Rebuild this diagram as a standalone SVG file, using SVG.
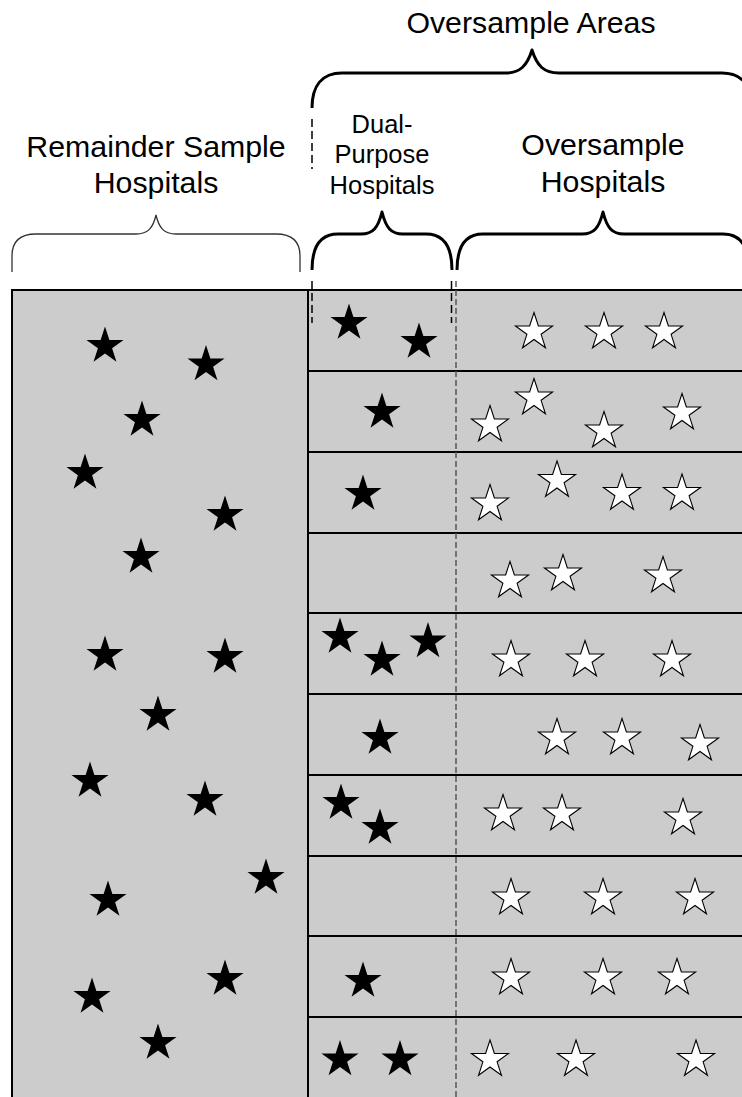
<svg xmlns="http://www.w3.org/2000/svg" xmlns:xlink="http://www.w3.org/1999/xlink" width="742" height="1097" viewBox="0 0 742 1097">
<style>
.lbl{font-family:"Liberation Sans",Arial,sans-serif;fill:#000;text-anchor:middle}
.big{font-size:30.3px}
.small{font-size:25.5px}
.row{fill:#cccccc;stroke:#000;stroke-width:2}
.brace{fill:none;stroke:#000;stroke-width:3;stroke-linejoin:round}
.thin{fill:none;stroke:#333;stroke-width:1.3}
.dashk{stroke:#000;stroke-width:1.5;stroke-dasharray:8,4;fill:none}
.dashg{stroke:#555;stroke-width:1.5;stroke-dasharray:6,3;fill:none}
.bs{fill:#000}
.ws{fill:#fff;stroke:#000;stroke-width:1.1;stroke-linejoin:miter}
</style>
<defs>
<path id="star" d="M0,-19.5 L4.38,-6.03 L18.55,-6.03 L7.09,2.3 L11.46,15.78 L0,7.45 L-11.46,15.78 L-7.09,2.3 L-18.55,-6.03 L-4.38,-6.03 Z"/>
</defs>
<rect width="742" height="1097" fill="#fff"/>

<g id="labels">
<text class="lbl big" x="531" y="33">Oversample Areas</text>
<text class="lbl big" x="156" y="157">Remainder Sample</text>
<text class="lbl big" x="156" y="193">Hospitals</text>
<text class="lbl small" x="382" y="133">Dual-</text>
<text class="lbl small" x="382" y="163">Purpose</text>
<text class="lbl small" x="382" y="194">Hospitals</text>
<text class="lbl big" x="603" y="155">Oversample</text>
<text class="lbl big" x="603" y="192">Hospitals</text>
</g>

<g id="braces">
<path class="brace" d="M312,108 C312,86 322,73 342,73 H505 C520,73 527,66 532,50 C537,66 544,73 559,73 H722 C742,73 752,86 752,108"/>
<path class="thin" d="M12,272 V256 C12,242 20,234 36,234 H136 C148,234 153,228 156,215 C159,228 164,234 176,234 H276 C292,234 300,242 300,256 V272"/>
<path class="brace" d="M312,270 C312,247 320,234 338,234 H361 C373,234 378,228 382,212 C386,228 391,234 403,234 H426 C444,234 452,247 452,270"/>
<path class="brace" d="M457,270 C457,247 465,234 483,234 H582 C594,234 599,228 603,212 C607,228 612,234 624,234 H723 C741,234 749,247 749,270"/>
</g>

<g id="remainder">
<rect class="row" x="12" y="290" width="296" height="820"/>
<use href="#star" class="bs" x="105" y="346"/>
<use href="#star" class="bs" x="206" y="364.5"/>
<use href="#star" class="bs" x="142" y="420"/>
<use href="#star" class="bs" x="85" y="473"/>
<use href="#star" class="bs" x="225" y="515"/>
<use href="#star" class="bs" x="141" y="557"/>
<use href="#star" class="bs" x="105" y="655"/>
<use href="#star" class="bs" x="225" y="657"/>
<use href="#star" class="bs" x="158" y="715"/>
<use href="#star" class="bs" x="90" y="781"/>
<use href="#star" class="bs" x="205" y="800"/>
<use href="#star" class="bs" x="266" y="878"/>
<use href="#star" class="bs" x="108" y="900"/>
<use href="#star" class="bs" x="225" y="979"/>
<use href="#star" class="bs" x="92" y="997"/>
<use href="#star" class="bs" x="158" y="1043"/>
</g>

<g id="areas">
<rect class="row" x="308" y="290" width="440" height="81"/>
<rect class="row" x="308" y="371" width="440" height="81"/>
<rect class="row" x="308" y="452" width="440" height="81"/>
<rect class="row" x="308" y="533" width="440" height="80"/>
<rect class="row" x="308" y="613" width="440" height="81"/>
<rect class="row" x="308" y="694" width="440" height="81"/>
<rect class="row" x="308" y="775" width="440" height="81"/>
<rect class="row" x="308" y="856" width="440" height="80"/>
<rect class="row" x="308" y="936" width="440" height="81"/>
<rect class="row" x="308" y="1017" width="440" height="90"/>
</g>

<g id="separators">
<line class="dashg" x1="456" y1="281" x2="456" y2="1097"/>
<line class="dashk" x1="312" y1="119" x2="312" y2="169"/>
<line class="dashk" x1="312" y1="281" x2="312" y2="323"/>
<line class="dashk" x1="451.5" y1="281" x2="451.5" y2="323"/>
</g>

<g id="dual-stars">
<use href="#star" class="bs" x="349" y="323"/>
<use href="#star" class="bs" x="419" y="342"/>
<use href="#star" class="bs" x="382" y="412"/>
<use href="#star" class="bs" x="363" y="494"/>
<use href="#star" class="bs" x="340" y="637"/>
<use href="#star" class="bs" x="382" y="660"/>
<use href="#star" class="bs" x="428" y="641.5"/>
<use href="#star" class="bs" x="380" y="738"/>
<use href="#star" class="bs" x="341" y="803"/>
<use href="#star" class="bs" x="380" y="828"/>
<use href="#star" class="bs" x="363" y="981"/>
<use href="#star" class="bs" x="340" y="1059.5"/>
<use href="#star" class="bs" x="400" y="1059.5"/>
</g>

<g id="oversample-stars">
<use href="#star" class="ws" x="534" y="332"/>
<use href="#star" class="ws" x="604" y="332"/>
<use href="#star" class="ws" x="664" y="332"/>
<use href="#star" class="ws" x="490" y="425"/>
<use href="#star" class="ws" x="534" y="398"/>
<use href="#star" class="ws" x="604" y="431"/>
<use href="#star" class="ws" x="682" y="413"/>
<use href="#star" class="ws" x="490" y="504"/>
<use href="#star" class="ws" x="557" y="480.5"/>
<use href="#star" class="ws" x="622" y="493.5"/>
<use href="#star" class="ws" x="682" y="493.5"/>
<use href="#star" class="ws" x="510" y="581"/>
<use href="#star" class="ws" x="563" y="574"/>
<use href="#star" class="ws" x="663" y="576"/>
<use href="#star" class="ws" x="511" y="660"/>
<use href="#star" class="ws" x="585" y="660"/>
<use href="#star" class="ws" x="672" y="660"/>
<use href="#star" class="ws" x="557" y="738"/>
<use href="#star" class="ws" x="622" y="738"/>
<use href="#star" class="ws" x="700" y="744"/>
<use href="#star" class="ws" x="503" y="814"/>
<use href="#star" class="ws" x="562" y="814"/>
<use href="#star" class="ws" x="683" y="818"/>
<use href="#star" class="ws" x="511" y="898"/>
<use href="#star" class="ws" x="603" y="898"/>
<use href="#star" class="ws" x="695" y="898"/>
<use href="#star" class="ws" x="511" y="978"/>
<use href="#star" class="ws" x="603" y="978"/>
<use href="#star" class="ws" x="677" y="978"/>
<use href="#star" class="ws" x="490" y="1059.5"/>
<use href="#star" class="ws" x="576" y="1059.5"/>
<use href="#star" class="ws" x="696" y="1059.5"/>
</g>
</svg>
